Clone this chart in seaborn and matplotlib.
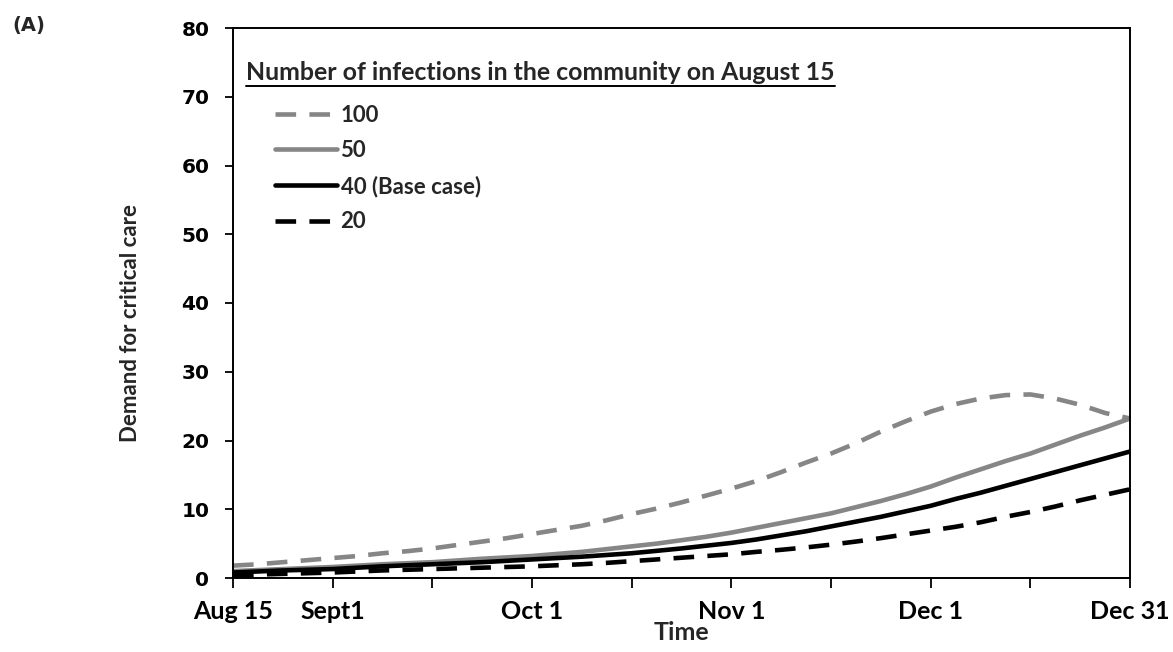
import numpy as np
import pandas as pd
import matplotlib
matplotlib.use("Agg")
import matplotlib.pyplot as plt
import seaborn as sns
from matplotlib.lines import Line2D

# ---------------- data ----------------
# days since Aug 15 (Aug 15 .. Dec 31)
days = [0, 3.83, 7.67, 11.5, 15.33, 19.17, 23, 26.83, 30.67, 34.5, 38.33,
        42.17, 46, 49.83, 53.67, 57.5, 61.33, 65.17, 69, 72.83, 76.67, 80.5,
        84.33, 88.17, 92, 95.83, 99.67, 103.5, 107.33, 111.17, 115, 118.83,
        122.67, 126.5, 130.33, 134.17, 138]

inf_100 = [1.8, 2.0, 2.3, 2.6, 2.9, 3.2, 3.6, 3.9, 4.3, 4.8, 5.3,
           5.8, 6.4, 7.0, 7.6, 8.4, 9.3, 10.1, 11.0, 12.0, 13.0, 14.1,
           15.4, 16.8, 18.1, 19.6, 21.3, 22.8, 24.2, 25.3, 26.1, 26.6,
           26.7, 26.1, 25.2, 24.0, 23.2]
inf_50 = [1.0, 1.15, 1.3, 1.45, 1.6, 1.8, 2.0, 2.15, 2.3, 2.55, 2.8,
          3.0, 3.2, 3.5, 3.8, 4.2, 4.6, 5.0, 5.5, 6.0, 6.6, 7.3,
          8.0, 8.7, 9.4, 10.3, 11.2, 12.2, 13.3, 14.6, 15.8, 17.0,
          18.1, 19.4, 20.7, 21.9, 23.2]
inf_40 = [0.8, 0.95, 1.1, 1.2, 1.3, 1.5, 1.7, 1.85, 2.0, 2.15, 2.3,
          2.5, 2.7, 2.9, 3.1, 3.35, 3.6, 3.95, 4.3, 4.7, 5.1, 5.6,
          6.2, 6.8, 7.5, 8.2, 8.9, 9.7, 10.5, 11.5, 12.4, 13.4,
          14.4, 15.4, 16.4, 17.4, 18.4]
inf_20 = [0.4, 0.5, 0.6, 0.7, 0.8, 0.95, 1.1, 1.2, 1.3, 1.4, 1.5,
          1.6, 1.7, 1.85, 2.0, 2.2, 2.45, 2.7, 2.95, 3.2, 3.45, 3.8,
          4.1, 4.45, 4.85, 5.3, 5.8, 6.35, 6.9, 7.45, 8.1, 8.9,
          9.6, 10.4, 11.3, 12.1, 12.9]

series_names = ["100", "50", "40 (Base case)", "20"]
tick_days = list(np.linspace(0, 138, 10))
tick_labels = ["Aug 15", "Sept1", "", "Oct 1", "", "Nov 1", "", "Dec 1", "", "Dec 31"]
y_ticks = [0, 10, 20, 30, 40, 50, 60, 70, 80]

legend_title = "Number of infections in the community on August 15"
x_label = "Time"
y_label = "Demand for critical care"
panel_label = "(A)"

# ---------------- styling ----------------
GREY = "#868686"
BLACK = "#000000"
palette = {"100": GREY, "50": GREY, "40 (Base case)": BLACK, "20": BLACK}
dashes = {"100": (4.5, 2.9), "50": "", "40 (Base case)": "", "20": (4.5, 2.9)}
LW = 3.3

sns.set_style("ticks")
plt.rcParams["font.family"] = ["DejaVu Sans"]
CAL = ["Lato", "DejaVu Sans"]

W, H = 1173, 652
fig = plt.figure(figsize=(W / 100, H / 100), dpi=100)
L, R, T, B = 233, 1130, 28, 578
ax = fig.add_axes([L / W, 1 - B / H, (R - L) / W, (B - T) / H])

df = pd.concat([
    pd.DataFrame({"day": days, "demand": v, "series": n})
    for n, v in zip(series_names, [inf_100, inf_50, inf_40, inf_20])
], ignore_index=True)

sns.lineplot(data=df, x="day", y="demand", hue="series", style="series",
             hue_order=series_names, style_order=series_names,
             palette=palette, dashes=dashes, linewidth=LW, ax=ax,
             legend=True, sort=False)

ax.set_xlim(0, 138)
ax.set_ylim(0, 80)
ax.set_xticks(tick_days)
ax.set_xticklabels(tick_labels, fontfamily=CAL, fontweight="bold", fontsize=18)
ax.set_yticks(y_ticks)
ax.set_yticklabels([str(v) for v in y_ticks], fontfamily=["DejaVu Sans"],
                   fontweight="bold", fontsize=14.5)
ax.tick_params(axis="x", direction="out", length=7, width=1.3, pad=9, colors="black")
ax.tick_params(axis="y", direction="out", length=6, width=1.3, pad=11, colors="black")
for s in ax.spines.values():
    s.set_visible(True)
    s.set_linewidth(1.4)
    s.set_color("black")

ax.set_xlabel(x_label, fontfamily=CAL, fontweight="bold", fontsize=18)
ax.xaxis.set_label_coords(0.5, (B - 632) / (B - T))
ax.xaxis.label.set_va("center")
ax.set_ylabel(y_label, fontfamily=CAL, fontweight="bold", fontsize=16)
ax.yaxis.set_label_coords((130 - L) / (R - L), (B - 323) / (B - T))
ax.yaxis.label.set_va("center")

# legend (entries), re-built from seaborn's handles
leg = ax.get_legend()
handles = list(leg.legend_handles)
labels = [t.get_text() for t in leg.get_texts()]
leg.remove()
for h in handles:
    h.set_linewidth(LW)
ax.legend(handles, labels, loc="upper left",
          bbox_to_anchor=((275 - L) / (R - L), (B - 105) / (B - T)),
          frameon=False, borderpad=0, borderaxespad=0,
          handlelength=2.8, handletextpad=0.15, labelspacing=0.64,
          prop={"family": CAL, "weight": "bold", "size": 16})

# legend title text, underlined
title = ax.text((246 - L) / (R - L), (B - 73) / (B - T), legend_title,
                transform=ax.transAxes, ha="left", va="center",
                fontfamily=CAL, fontweight="bold", fontsize=17)
fig.canvas.draw()
bb = title.get_window_extent()
title.set_fontsize(17 * 591 / bb.width)
fig.canvas.draw()
bb = title.get_window_extent()
uy = bb.y0 - 1
fig.add_artist(Line2D([bb.x0 / W, bb.x1 / W], [uy / H, uy / H],
                      transform=fig.transFigure, color="black", lw=1.4))

fig.text(12 / W, 1 - 25 / H, panel_label, ha="left", va="center",
         fontfamily=["DejaVu Sans"], fontweight="bold", fontsize=14)

fig.savefig("out.png", dpi=100)
